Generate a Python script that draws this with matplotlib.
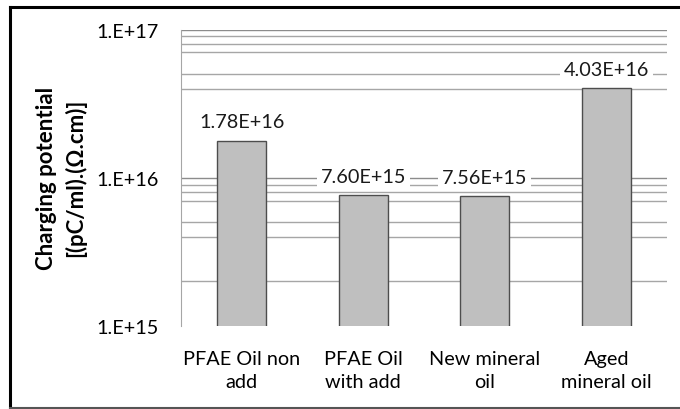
import matplotlib.pyplot as plt
from matplotlib.lines import Line2D

categories = ["PFAE Oil non\nadd", "PFAE Oil\nwith add", "New mineral\noil", "Aged\nmineral oil"]
values = [1.78e16, 7.60e15, 7.56e15, 4.03e16]
value_labels = ["1.78E+16", "7.60E+15", "7.56E+15", "4.03E+16"]
major_ticks = [1e15, 1e16, 1e17]
major_tick_labels = ["1.E+15", "1.E+16", "1.E+17"]
# minor gridlines as they show up in the picture
minor_grid = [2e15, 4e15, 5e15, 7e15, 8e15, 9e15, 4e16, 5e16, 7e16, 8e16, 9e16]

plt.rcParams['font.family'] = ['Lato', 'DejaVu Sans']

fig = plt.figure(figsize=(6.8, 4.1), dpi=100)
ax = fig.add_axes([0.266, 0.2024, 0.715, 0.7232])

ax.set_yscale('log')
ax.set_ylim(1e15, 1e17)
ax.set_xlim(-0.5, 3.5)

# gridlines
for g in minor_grid:
    ax.axhline(g, color='#a6a6a6', lw=1.0, zorder=0)
for g in major_ticks[1:]:
    ax.axhline(g, color='#8c8c8c', lw=1.0, zorder=0)

x = list(range(len(categories)))
ax.bar(x, values, width=0.4, color='#bfbfbf', edgecolor='#4d4d4d', linewidth=1.0, zorder=2)

for xi, v, lab in zip(x, values, value_labels):
    ax.annotate(lab, (xi, v), xytext=(0, 13.5), textcoords='offset points',
                ha='center', va='center', fontsize=14.3, color='#1a1a1a', zorder=3,
                bbox=dict(boxstyle='square,pad=0.2', facecolor='white', edgecolor='none'))

ax.set_yticks(major_ticks)
ax.set_yticklabels(major_tick_labels, fontsize=14.3)
ax.yaxis.set_minor_locator(plt.NullLocator())
ax.set_xticks(x)
ax.set_xticklabels(categories, fontsize=14.3, linespacing=1.45)
ax.tick_params(axis='both', length=0)
ax.tick_params(axis='y', pad=16)
ax.tick_params(axis='x', pad=17)

for s in ['top', 'right', 'bottom']:
    ax.spines[s].set_visible(False)
ax.spines['left'].set_color('#a6a6a6')

fig.text(0.09, 0.566, "Charging potential\n[(pC/ml).(\u03a9.cm)]", rotation=90,
         ha='center', va='center', fontsize=16, fontweight='bold', linespacing=1.4)

# outer frame
fig.add_artist(Line2D([10 / 680, 10 / 680], [1.5 / 410, 402 / 410], color='black', lw=2.2))
fig.add_artist(Line2D([10 / 680, 1.0], [402 / 410, 402 / 410], color='black', lw=2.2))
fig.add_artist(Line2D([10 / 680, 1.0], [1.5 / 410, 1.5 / 410], color='#555555', lw=1.5))

plt.savefig('out.png', dpi=100)
